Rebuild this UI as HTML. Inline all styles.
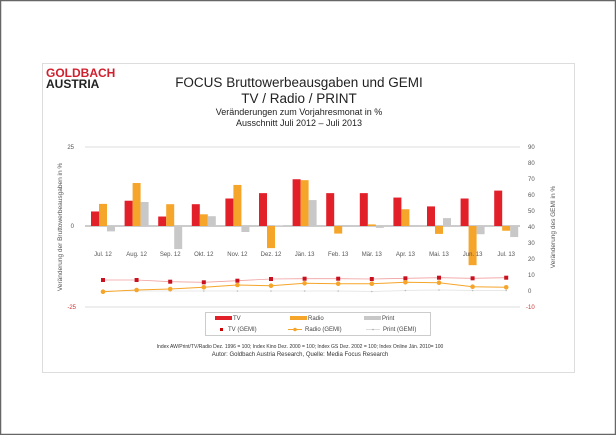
<!DOCTYPE html>
<html><head><meta charset="utf-8"><style>
html,body{margin:0;padding:0;background:#fff}
svg{display:block;font-family:"Liberation Sans",sans-serif}
</style></head><body>
<svg id="s" width="616" height="435" xmlns="http://www.w3.org/2000/svg">
<rect x="0.5" y="0.5" width="615" height="434" fill="#fff" stroke="#666" stroke-width="1.5"/>
<rect x="42.5" y="63.5" width="532" height="309" fill="#fff" stroke="#ddd" stroke-width="1"/>
<text x="46" y="77" font-size="12" font-weight="bold" fill="#d0202e">GOLDBACH</text>
<text x="46" y="88" font-size="12" font-weight="bold" fill="#222">AUSTRIA</text>
<text x="299" y="87" font-size="13.5" text-anchor="middle" fill="#222">FOCUS Bruttowerbeausgaben und GEMI</text>
<text x="299" y="103" font-size="13.5" text-anchor="middle" fill="#222">TV / Radio / PRINT</text>
<text x="299" y="115" font-size="9" text-anchor="middle" fill="#222">Veränderungen zum Vorjahresmonat in %</text>
<text x="299" y="126" font-size="9" text-anchor="middle" fill="#222">Ausschnitt  Juli 2012 – Juli 2013</text>
<line x1="85" y1="147" x2="520" y2="147" stroke="#ddd"/>
<line x1="85" y1="307" x2="520" y2="307" stroke="#ddd"/>
<line x1="85" y1="226" x2="520" y2="226" stroke="#999" stroke-width="1"/>
<g font-size="6" fill="#555">
<text x="74" y="149" text-anchor="end">25</text>
<text x="74" y="228" text-anchor="end">0</text>
<text x="76" y="309" text-anchor="end" fill="#c33">-25</text>
<text x="528" y="149">90</text><text x="528" y="165">80</text><text x="528" y="181">70</text>
<text x="528" y="197">60</text><text x="528" y="213">50</text><text x="528" y="229">40</text>
<text x="528" y="245">30</text><text x="528" y="261">20</text><text x="528" y="277">10</text>
<text x="528" y="293">0</text><text x="526" y="309" fill="#c33">-10</text>
</g>
<text transform="translate(62,227) rotate(-90)" font-size="6.5" text-anchor="middle" fill="#555">Veränderung der Bruttowerbeausgaben in %</text>
<text transform="translate(555,227) rotate(-90)" font-size="6.5" text-anchor="middle" fill="#555">Veränderung des GEMI in %</text>
<g id="bars"></g>
<g font-size="6" fill="#555" text-anchor="middle">
<text x="103" y="256">Jul. 12</text><text x="136.6" y="256">Aug. 12</text><text x="170.2" y="256">Sep. 12</text>
<text x="203.8" y="256">Okt. 12</text><text x="237.4" y="256">Nov. 12</text><text x="271" y="256">Dez. 12</text>
<text x="304.6" y="256">Jän. 13</text><text x="338.2" y="256">Feb. 13</text><text x="371.8" y="256">Mär. 13</text>
<text x="405.4" y="256">Apr. 13</text><text x="439" y="256">Mai. 13</text><text x="472.6" y="256">Jun. 13</text>
<text x="506.2" y="256">Jul. 13</text>
</g>
<rect x="205.5" y="312.5" width="225" height="23" fill="#fff" stroke="#ccc"/>
<rect x="215" y="316" width="17" height="4" fill="#e2202a"/><text x="233" y="320" font-size="6" fill="#444">TV</text>
<rect x="290" y="316" width="17" height="4" fill="#f5a52a"/><text x="308" y="320" font-size="6" fill="#444">Radio</text>
<rect x="364" y="316" width="17" height="4" fill="#c8c8c8"/><text x="382" y="320" font-size="6" fill="#444">Print</text>
<rect x="220" y="328" width="3" height="3" fill="#c00"/><text x="228" y="331" font-size="6" fill="#444">TV (GEMI)</text>
<line x1="288" y1="329.5" x2="302" y2="329.5" stroke="#f5a52a"/><circle cx="295" cy="329.5" r="1.8" fill="#f5a52a"/><text x="305" y="331" font-size="6" fill="#444">Radio (GEMI)</text>
<line x1="366" y1="329.5" x2="380" y2="329.5" stroke="#ddd"/><circle cx="373" cy="329.5" r="0.8" fill="#aaa"/><text x="383" y="331" font-size="6" fill="#444">Print (GEMI)</text>
<text x="300" y="348" font-size="5" text-anchor="middle" fill="#333">Index AW/Print/TV/Radio Dez. 1996 = 100; Index Kino Dez. 2000 = 100; Index GS Dez. 2002 = 100; Index Online  Jän. 2010= 100</text>
<text x="300" y="356" font-size="6" text-anchor="middle" fill="#333">Autor: Goldbach Austria Research, Quelle: Media Focus Research</text>
</svg>
<script>
var tv=[4.6,8,3,6.9,8.7,10.4,14.8,10.4,10.4,9,6.2,8.7,11.2];
var ra=[7,13.6,6.9,3.7,13,-7,14.5,-2.4,0.5,5.3,-2.5,-12.4,-1.5];
var pr=[-1.7,7.6,-7.3,3.1,-1.9,0.2,8.2,0.3,-0.6,0.3,2.5,-2.6,-3.5];
var tg=[280,280,281.7,282.3,280.7,279,278.7,278.7,279,278.3,277.7,278.3,277.7];
var rg=[291.7,290,289,287.3,285,285.7,283.3,283.7,283.7,282.3,282.7,286.7,287.3];
var pg=[291,291,291,291,291,291,291,291,291.5,290.5,290,290.5,290.5];
var ns="http://www.w3.org/2000/svg",g=document.getElementById("bars");
function el(t,a){var e=document.createElementNS(ns,t);for(var k in a)e.setAttribute(k,a[k]);g.appendChild(e);return e;}
function bar(x,v,c){var y0=226,h=Math.abs(v)*3.16;el("rect",{x:x,y:v>0?y0-h:y0,width:8,height:h,fill:c});}
for(var i=0;i<13;i++){var cx=103+33.6*i;bar(cx-12,tv[i],"#e2202a");bar(cx-4,ra[i],"#f5a52a");bar(cx+4,pr[i],"#c8c8c8");}
function line(a,c,w){var p="";for(var i=0;i<13;i++)p+=(i?"L":"M")+(103+33.6*i)+","+a[i];el("path",{d:p,stroke:c,"stroke-width":w,fill:"none"});}
line(pg,"#e8e8e8",1);line(tg,"#f2a0a0",0.8);line(rg,"#f5a52a",1);
for(var i=0;i<13;i++){var cx=103+33.6*i;el("circle",{cx:cx,cy:pg[i],r:0.8,fill:"#bbb"});
el("rect",{x:cx-2,y:tg[i]-2,width:4,height:4,fill:"#c8101e"});
el("circle",{cx:cx,cy:rg[i],r:2.3,fill:"#f5a52a"});}
</script>
</body></html>
